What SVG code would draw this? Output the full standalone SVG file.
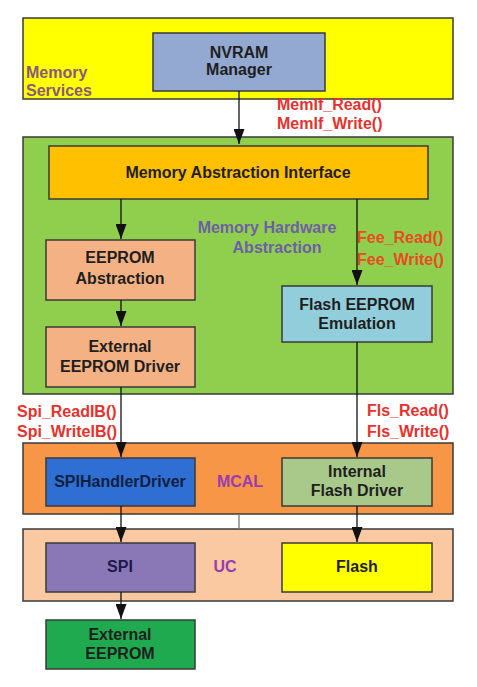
<svg xmlns="http://www.w3.org/2000/svg" width="477" height="687" viewBox="0 0 477 687">
<defs>
<marker id="ah" markerWidth="15" markerHeight="11" refX="15" refY="5.5" orient="auto" markerUnits="userSpaceOnUse" viewBox="0 0 15 11">
<path d="M0,0 L15,5.5 L0,11 Z" fill="#111"/>
</marker>
<style>
.b{stroke:#3a3a3a;stroke-width:1.5}
.t{font-family:"Liberation Sans",Arial,sans-serif;font-weight:bold;font-size:16px;fill:#1e1e1e;text-anchor:middle}
.r{font-family:"Liberation Sans",Arial,sans-serif;font-weight:bold;font-size:16px;fill:#e8312c}
.o{font-family:"Liberation Sans",Arial,sans-serif;font-weight:bold;font-size:16px;fill:#e84a22}
.p{font-family:"Liberation Sans",Arial,sans-serif;font-weight:bold;font-size:16px;fill:#9a3cb0}
.c{stroke:#111;stroke-width:1.3;fill:none}
</style>
</defs>
<rect width="477" height="687" fill="#fff"/>
<g id="memory-services">
<rect x="23" y="18" width="430" height="81" fill="#ffff00" class="b"/>
<text x="26" y="78" font-family="Liberation Sans,Arial,sans-serif" font-weight="bold" font-size="16" fill="#8a5a7e">Memory</text>
<text x="26" y="96" font-family="Liberation Sans,Arial,sans-serif" font-weight="bold" font-size="16" fill="#8a5a7e">Services</text>
</g>
<g id="nvram">
<rect x="153" y="33" width="172" height="58" fill="#93a9d1" class="b"/>
<text x="239" y="58" class="t">NVRAM</text>
<text x="239" y="75" class="t">Manager</text>
</g>
<g id="memory-hw-abstraction">
<rect x="23" y="137" width="430" height="257" fill="#8fcf4d" class="b"/>
<text x="267" y="233" class="t" style="fill:#6e5fa6">Memory Hardware</text>
<text x="277" y="253" class="t" style="fill:#6e5fa6">Abstraction</text>
</g>
<g id="mai">
<rect x="49" y="146" width="379" height="53" fill="#ffc000" class="b"/>
<text x="238" y="178" class="t">Memory Abstraction Interface</text>
</g>
<g id="eeprom-abs">
<rect x="46" y="240" width="149" height="60" fill="#f4b183" class="b"/>
<text x="120" y="263" class="t">EEPROM</text>
<text x="120" y="284" class="t">Abstraction</text>
</g>
<g id="ext-eeprom-drv">
<rect x="46" y="327" width="149" height="60" fill="#f4b183" class="b"/>
<text x="120" y="352" class="t">External</text>
<text x="120" y="372" class="t">EEPROM Driver</text>
</g>
<g id="fee">
<rect x="282" y="286" width="150" height="56" fill="#92cddc" class="b"/>
<text x="357" y="310" class="t">Flash EEPROM</text>
<text x="357" y="329" class="t">Emulation</text>
</g>
<g id="mcal">
<rect x="23" y="443" width="430" height="71" fill="#f79646" class="b"/>
<text x="240" y="487" class="p" text-anchor="middle">MCAL</text>
</g>
<g id="spihandler">
<rect x="46" y="458" width="149" height="48" fill="#2f6fd3" class="b"/>
<text x="120" y="487" class="t" style="fill:#102040">SPIHandlerDriver</text>
</g>
<g id="int-flash-drv">
<rect x="282" y="458" width="150" height="48" fill="#a9c98b" class="b"/>
<text x="357" y="477" class="t">Internal</text>
<text x="357" y="496" class="t">Flash Driver</text>
</g>
<g id="uc">
<rect x="23" y="529" width="430" height="72" fill="#fac9a2" class="b"/>
<text x="225" y="572" class="p" text-anchor="middle">UC</text>
</g>
<g id="spi">
<rect x="46" y="543" width="149" height="49" fill="#8a78b6" class="b"/>
<text x="120" y="572" class="t" style="fill:#20184a">SPI</text>
</g>
<g id="flash">
<rect x="282" y="543" width="150" height="49" fill="#ffff00" class="b"/>
<text x="357" y="572" class="t">Flash</text>
</g>
<g id="ext-eeprom">
<rect x="46" y="620" width="149" height="49" fill="#1faa50" class="b"/>
<text x="120" y="640" class="t">External</text>
<text x="120" y="659" class="t">EEPROM</text>
</g>
<g id="connectors">
<line x1="239" y1="91" x2="239" y2="144" class="c" marker-end="url(#ah)"/>
<line x1="121" y1="199" x2="121" y2="239" class="c" marker-end="url(#ah)"/>
<line x1="357" y1="199" x2="357" y2="285" class="c" marker-end="url(#ah)"/>
<line x1="121" y1="300" x2="121" y2="326" class="c" marker-end="url(#ah)"/>
<line x1="121" y1="387" x2="121" y2="457" class="c" marker-end="url(#ah)"/>
<line x1="357" y1="342" x2="357" y2="457" class="c" marker-end="url(#ah)"/>
<line x1="121" y1="506" x2="121" y2="542" class="c" marker-end="url(#ah)"/>
<line x1="357" y1="506" x2="357" y2="542" class="c" marker-end="url(#ah)"/>
<line x1="239" y1="514" x2="239" y2="529" stroke="#777" stroke-width="1.3"/>
<line x1="121" y1="592" x2="121" y2="619" class="c" marker-end="url(#ah)"/>
<text x="277" y="110" class="r">MemIf_Read()</text>
<text x="277" y="129" class="r">MemIf_Write()</text>
<text x="357" y="243" class="o">Fee_Read()</text>
<text x="357" y="265" class="o">Fee_Write()</text>
<text x="17" y="417" class="r">Spi_ReadIB()</text>
<text x="17" y="437" class="r">Spi_WriteIB()</text>
<text x="367" y="416" class="r">Fls_Read()</text>
<text x="367" y="437" class="r">Fls_Write()</text>
</g>
</svg>
